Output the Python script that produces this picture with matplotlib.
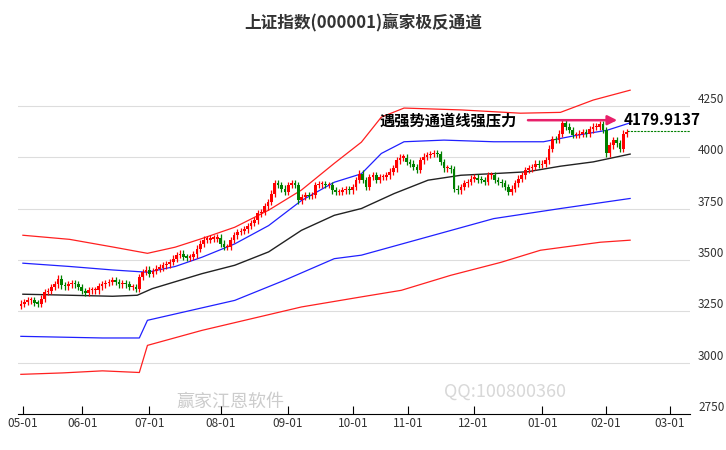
import numpy as np
import matplotlib
matplotlib.use("Agg")
import matplotlib.pyplot as plt

plt.rcParams['font.family'] = ['Noto Sans CJK SC', 'DejaVu Sans']

closes = [3287,3295,3303,3303,3290,3287,3311,3344,3349,3368,
 3381,3409,3376,3371,3381,3384,3381,3368,3349,3339,
 3352,3352,3352,3371,3381,3388,3393,3401,3393,3381,
 3384,3381,3368,3368,3360,3417,3441,3453,3433,3445,
 3458,3462,3474,3479,3490,3506,3523,3531,3514,3511,
 3514,3527,3555,3579,3599,3599,3604,3604,3609,3579,
 3563,3563,3596,3620,3636,3641,3648,3664,3680,3693,
 3726,3734,3761,3782,3823,3872,3864,3847,3831,3864,
 3872,3864,3790,3807,3815,3810,3815,3864,3868,3868,
 3864,3864,3839,3831,3831,3839,3842,3839,3855,
 3888,3920,3888,3855,3904,3912,3888,3904,3904,3912,
 3929,3945,3985,3998,3998,3977,3969,3953,3937,3985,
 4002,4010,4015,4021,4015,3977,3945,3945,3940,3847,
 3839,3855,3872,3880,3896,3901,3891,3888,3880,3912,
 3912,3888,3880,3872,3855,3831,3847,3872,3896,3912,
 3937,3945,3953,3969,3961,3969,3985,4042,4086,4083,
 4115,4164,4148,4132,4107,4107,4115,4123,4115,4135,
 4148,4148,4161,4132,4018,4058,4083,4067,4042,4115,
 4123]
first_open = 3275

tick_pos = [0.6,18.2,37.9,59.1,78.8,98.2,114.4,133.8,154.1,172.9,191.8]
tick_labels = ["05-01","06-01","07-01","08-01","09-01","10-01","11-01","12-01","01-01","02-01","03-01"]

ur_x = [0.6,14.4,27.1,37.4,45.6,53.5,63.2,73.2,82.9,92.6,100.6,106.5,113.2,130,147.6,159.4,169.1,180]
ur_y = [3620,3600,3563,3532,3562,3604,3659,3742,3840,3970,4073,4195,4239,4230,4214,4218,4278,4326]
ub_x = [0.6,14.4,27.1,37.4,45.6,53.5,63.2,73.2,82.9,92.6,100.6,106.5,113.2,125,139.7,154.4,164.4,173.2,180]
ub_y = [3484,3468,3451,3440,3468,3513,3578,3667,3789,3878,3919,4018,4075,4083,4075,4075,4107,4131,4167]
mid_x = [0.6,14.4,27.1,34.4,38.8,53.5,63.2,73.2,82.9,92.6,100.6,110.3,120.3,130,139.7,149.7,159.4,169.1,180]
mid_y = [3333,3328,3323,3328,3360,3433,3474,3539,3644,3717,3750,3823,3888,3912,3920,3929,3956,3977,4015]
lb_x = [0,24.1,35,37.4,63.2,77.9,92.6,100.6,139.7,159.4,180]
lb_y = [3128,3120,3120,3206,3303,3401,3506,3523,3701,3750,3799]
lr_x = [0,12.4,24.1,35,37.4,53.5,68.2,82.9,100.6,112.4,127,141.8,153.5,171.2,180]
lr_y = [2943,2950,2960,2952,3084,3157,3214,3271,3320,3352,3425,3488,3547,3586,3596]

yticks = [2750,3000,3250,3500,3750,4000,4250]
last_level = 4127
pressure = 4179.9137

fig = plt.figure(figsize=(7.26,4.5), dpi=100)
ax = fig.add_axes([0.025,0.08,0.925,0.831])
ax.set_xlim(-0.8,197.6)
ax.set_ylim(2750,4570)

for v in yticks[1:]:
    ax.axhline(v, color='#dddddd', lw=0.8, zorder=0)

c = np.array(closes, float)
o = np.concatenate([[first_open], c[:-1]])
x = np.arange(len(c))
for i in range(len(c)):
    up = c[i] >= o[i]
    col = '#ff0000' if up else '#008000'
    hi = max(o[i], c[i]) + 16
    lo = min(o[i], c[i]) - 16
    ax.vlines(x[i], lo, hi, color=col, lw=0.9, zorder=3)
    h = abs(c[i]-o[i]) if abs(c[i]-o[i]) > 6 else 6
    ax.bar(x[i], h, bottom=min(o[i], c[i]), width=0.8, color=col, zorder=4, linewidth=0)

ax.plot(ur_x, ur_y, color='#ff2020', lw=0.9, zorder=2)
ax.plot(lr_x, lr_y, color='#ff2020', lw=0.9, zorder=2)
ax.plot(ub_x, ub_y, color='#2020ff', lw=0.9, zorder=2)
ax.plot(lb_x, lb_y, color='#2020ff', lw=0.9, zorder=2)
ax.plot(mid_x, mid_y, color='#222222', lw=1.0, zorder=2)

ax.plot([len(c)-1, 197.6], [last_level, last_level], color='#008000', lw=0.8, ls=(0,(2,1)), zorder=2)

ax.annotate('', xy=(177, pressure), xytext=(149, pressure),
            arrowprops=dict(arrowstyle='-|>', color='#e8206a', lw=1.8, mutation_scale=14), zorder=6)
ax.text(106, pressure, '遇强势通道线强压力', fontsize=11, fontweight='bold', va='center', ha='left', zorder=6)
ax.text(178, pressure, f'{pressure:.4f}', fontsize=11, fontweight='bold', va='center', ha='left', zorder=6)

ax.text(143, 2860, 'QQ:100800360', fontsize=13, color='#d8d8d8', ha='center', va='center', zorder=1)
ax.text(62, 2808, '赢家江恩软件', fontsize=13, color='#cccccc', ha='center', va='center', zorder=1)

ax.set_xticks(tick_pos)
ax.set_xticklabels(tick_labels, fontsize=8.5, color='#333333')
ax.tick_params(axis='x', length=6, direction='in', pad=2)
ax.yaxis.tick_right()
ax.set_yticks(yticks)
ax.set_yticklabels([str(v) for v in yticks], fontsize=8.5, color='#333333', va='bottom')
ax.tick_params(axis='y', length=0, pad=6)
for s in ['top','left','right']:
    ax.spines[s].set_visible(False)
ax.spines['bottom'].set_color('black')

fig.text(0.5, 0.951, '上证指数(000001)赢家极反通道', ha='center', va='center', fontsize=12, fontweight='bold', color='#333333')
fig.savefig('out.png', dpi=100)
